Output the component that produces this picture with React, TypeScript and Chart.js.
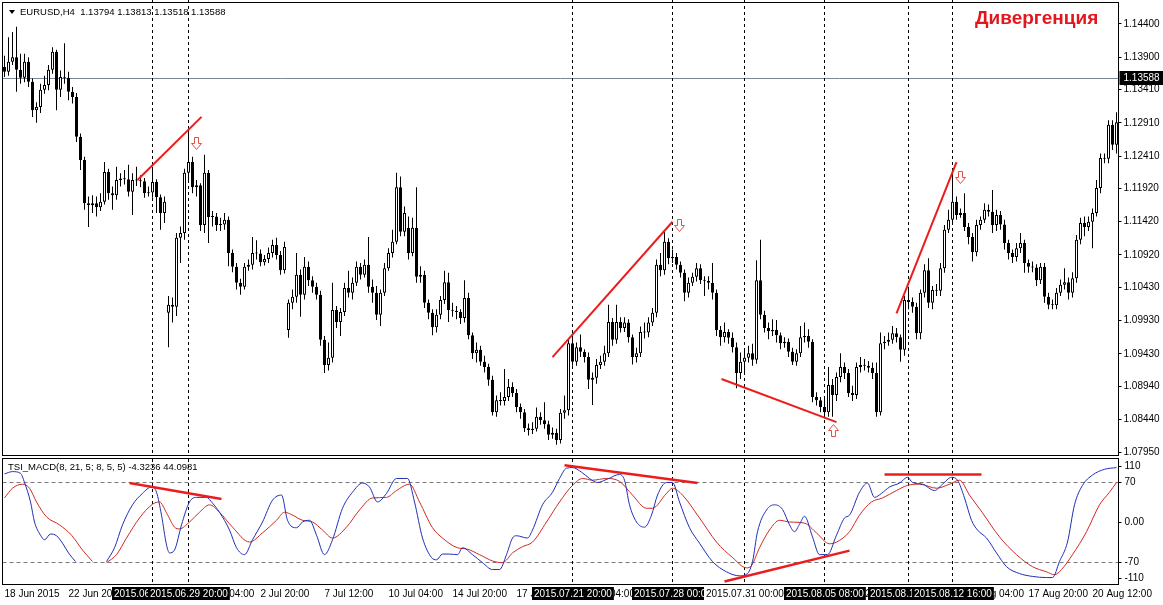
import React, { useEffect, useRef } from "react";
import { Chart, registerables } from "chart.js";

Chart.register(...registerables);

const FONT = "'Liberation Sans', Arial, Helvetica, sans-serif";
const PIP = 10000; // OHLC arrays below are stored as price x 10000
const AXIS_W = 44.5;

// ---- EURUSD H4 candles (bar 0 = 18 Jun 2015 04:00) ----
const OPEN = [
  11375, 11368, 11383, 11390, 11371, 11359, 11383, 11353, 11310, 11315,
  11341, 11348, 11371, 11398, 11341, 11360, 11359, 11338, 11330, 11270,
  11235, 11170, 11167, 11170, 11164, 11172, 11217, 11185, 11182, 11205,
  11207, 11206, 11187, 11205, 11204, 11203, 11185, 11186, 11202, 11179,
  11155, 11005, 11017, 11014, 11118, 11125, 11216, 11232, 11194, 11197,
  11137, 11216, 11149, 11150, 11137, 11138, 11145, 11095, 11074, 11050,
  11044, 11074, 11077, 11095, 11094, 11081, 11086, 11095, 11107, 11092,
  11069, 10979, 11020, 11029, 11062, 11032, 11074, 11054, 11044, 11032,
  10964, 10926, 10937, 11009, 10991, 11006, 11042, 11035, 11050, 11074,
  11062, 11077, 11044, 11035, 11002, 11035, 11072, 11095, 11112, 11194,
  11127, 11133, 11095, 11133, 11059, 11062, 11020, 11005, 10983, 11002,
  11024, 11051, 11009, 11008, 11006, 10997, 11027, 10971, 10944, 10949,
  10931, 10923, 10904, 10855, 10873, 10872, 10878, 10893, 10884, 10863,
  10855, 10831, 10828, 10830, 10848, 10843, 10837, 10821, 10824, 10813,
  10854, 10858, 10959, 10931, 10953, 10946, 10938, 10904, 10907, 10926,
  10931, 10944, 10991, 10964, 10991, 10982, 10990, 10968, 10938, 10944,
  10976, 10975, 10990, 11005, 11077, 11069, 11112, 11087, 11089, 11077,
  11065, 11035, 11050, 11059, 11072, 11054, 11053, 11050, 11035, 10979,
  10968, 10976, 10967, 10953, 10914, 10931, 10937, 10944, 10934, 11054,
  11002, 10982, 10977, 10979, 10971, 10959, 10961, 10946, 10931, 10944,
  10968, 10970, 10961, 10878, 10873, 10863, 10855, 10896, 10881, 10908,
  10923, 10914, 10884, 10881, 10923, 10926, 10925, 10922, 10914, 10855,
  10959, 10961, 10964, 10974, 10968, 10949, 11024, 11021, 11014, 10974,
  11035, 11069, 11020, 11039, 11038, 11072, 11130, 11145, 11172, 11152,
  11155, 11134, 11119, 11096, 11137, 11145, 11160, 11157, 11137, 11152,
  11138, 11110, 11095, 11089, 11102, 11110, 11080, 11074, 11073, 11054,
  11074, 11029, 11017, 11016, 11035, 11047, 11051, 11035, 11057, 11115,
  11140, 11134, 11142, 11155, 11193, 11238, 11237, 11288, 11258,
];
const HIGH = [
  11392, 11420, 11428, 11436, 11395, 11395, 11390, 11358, 11322, 11350,
  11362, 11378, 11405, 11401, 11370, 11411, 11368, 11345, 11336, 11275,
  11240, 11180, 11182, 11180, 11185, 11232, 11222, 11195, 11225, 11215,
  11220, 11228, 11215, 11225, 11212, 11208, 11195, 11225, 11206, 11183,
  11180, 11030, 11028, 11125, 11135, 11222, 11285, 11240, 11205, 11200,
  11243, 11220, 11158, 11155, 11148, 11155, 11150, 11100, 11080, 11056,
  11080, 11085, 11119, 11114, 11100, 11092, 11103, 11115, 11118, 11098,
  11112, 11025, 11040, 11095, 11070, 11089, 11082, 11060, 11050, 11038,
  10970, 10960, 11050, 11015, 11012, 11050, 11068, 11058, 11082, 11080,
  11085, 11119, 11055, 11045, 11040, 11080, 11102, 11130, 11216, 11210,
  11165, 11150, 11148, 11194, 11075, 11068, 11025, 11010, 11010, 11030,
  11068, 11065, 11020, 11015, 11010, 11054, 11035, 10975, 10960, 10955,
  10940, 10928, 10910, 10880, 10885, 10920, 10905, 10900, 10890, 10868,
  10860, 10838, 10840, 10862, 10855, 10870, 10842, 10832, 10830, 10860,
  10880, 10965, 10975, 10960, 10972, 10950, 10945, 10915, 10935, 10940,
  10955, 11017, 10997, 11017, 10998, 10998, 10995, 10972, 10952, 10984,
  10990, 10998, 11012, 11085, 11095, 11127, 11117, 11100, 11095, 11082,
  11070, 11058, 11065, 11080, 11078, 11060, 11060, 11080, 11040, 10985,
  10990, 10980, 10975, 10960, 10945, 10950, 10955, 10958, 11084, 11115,
  11008, 10990, 10995, 10994, 10975, 10968, 10966, 10952, 10950, 10985,
  10990, 10980, 10965, 10885, 10878, 10875, 10923, 10905, 10915, 10944,
  10930, 10920, 10895, 10930, 10938, 10935, 10932, 10930, 10930, 10975,
  10970, 10975, 10985, 10982, 10972, 11030, 11044, 11028, 11020, 11040,
  11078, 11087, 11045, 11048, 11080, 11137, 11160, 11216, 11180, 11162,
  11185, 11140, 11125, 11145, 11150, 11170, 11168, 11190, 11160, 11158,
  11145, 11115, 11100, 11110, 11125, 11115, 11085, 11082, 11078, 11080,
  11080, 11035, 11025, 11042, 11055, 11072, 11058, 11066, 11122, 11148,
  11150, 11150, 11162, 11205, 11245, 11245, 11295, 11295, 11307,
];
const LOW = [
  11360, 11362, 11378, 11338, 11350, 11352, 11345, 11300, 11291, 11306,
  11335, 11340, 11365, 11310, 11330, 11350, 11325, 11320, 11262, 11220,
  11160, 11134, 11155, 11150, 11158, 11168, 11175, 11160, 11175, 11195,
  11198, 11180, 11152, 11196, 11194, 11178, 11180, 11178, 11155, 11130,
  11140, 10953, 10990, 11000, 11080, 11115, 11205, 11185, 11180, 11128,
  11125, 11110, 11135, 11128, 11128, 11130, 11075, 11066, 11040, 11032,
  11040, 11068, 11070, 11085, 11075, 11076, 11080, 11088, 11085, 11062,
  11064, 10967, 11010, 11020, 10999, 11025, 11045, 11035, 11025, 10955,
  10914, 10918, 10930, 10982, 10970, 11000, 11028, 11025, 11045, 11055,
  11058, 11035, 11020, 10994, 10985, 11030, 11068, 11088, 11108, 11120,
  11120, 11085, 11090, 11050, 11050, 11012, 10995, 10971, 10975, 10995,
  11018, 10991, 10999, 10995, 10988, 10990, 10965, 10935, 10930, 10925,
  10915, 10895, 10850, 10848, 10865, 10865, 10872, 10878, 10855, 10845,
  10825, 10820, 10822, 10826, 10836, 10830, 10813, 10815, 10806, 10808,
  10845, 10850, 10925, 10925, 10938, 10930, 10890, 10866, 10898, 10920,
  10925, 10938, 10955, 10958, 10975, 10976, 10960, 10927, 10930, 10938,
  10966, 10968, 10985, 10998, 11060, 11062, 11078, 11080, 11070, 11058,
  11022, 11028, 11045, 11052, 11048, 11030, 11040, 11025, 10970, 10955,
  10960, 10958, 10945, 10891, 10905, 10915, 10930, 10925, 10928, 10995,
  10975, 10965, 10970, 10960, 10950, 10952, 10938, 10926, 10925, 10938,
  10960, 10952, 10870, 10865, 10855, 10846, 10848, 10848, 10872, 10900,
  10905, 10878, 10872, 10875, 10915, 10918, 10915, 10905, 10848, 10850,
  10950, 10955, 10958, 10960, 10931, 10940, 11010, 11005, 10965, 10965,
  11028, 11012, 11010, 11030, 11030, 11065, 11125, 11140, 11145, 11148,
  11128, 11108, 11082, 11090, 11130, 11140, 11150, 11125, 11128, 11130,
  11100, 11085, 11080, 11082, 11095, 11065, 11065, 11066, 11045, 11048,
  11020, 11010, 11010, 11010, 11030, 11040, 11025, 11028, 11050, 11108,
  11120, 11128, 11102, 11150, 11185, 11230, 11230, 11250, 11245,
];
const CLOSE = [
  11368, 11383, 11390, 11371, 11359, 11383, 11353, 11310, 11315, 11341,
  11348, 11371, 11398, 11341, 11360, 11359, 11338, 11330, 11270, 11235,
  11170, 11167, 11170, 11164, 11172, 11217, 11185, 11182, 11205, 11207,
  11206, 11187, 11205, 11204, 11203, 11185, 11186, 11202, 11179, 11155,
  11172, 11017, 11014, 11118, 11125, 11216, 11232, 11194, 11197, 11137,
  11216, 11149, 11150, 11137, 11138, 11145, 11095, 11074, 11050, 11044,
  11074, 11077, 11095, 11094, 11081, 11086, 11095, 11107, 11092, 11069,
  11104, 11020, 11029, 11062, 11032, 11074, 11054, 11044, 11032, 10964,
  10926, 10937, 11009, 10991, 11006, 11042, 11035, 11050, 11074, 11062,
  11077, 11044, 11035, 11002, 11035, 11072, 11095, 11112, 11194, 11127,
  11155, 11095, 11133, 11059, 11062, 11020, 11005, 10983, 11002, 11024,
  11051, 11009, 11008, 11006, 10997, 11027, 10971, 10944, 10949, 10931,
  10923, 10904, 10855, 10873, 10872, 10878, 10893, 10884, 10863, 10855,
  10831, 10828, 10830, 10848, 10843, 10837, 10821, 10824, 10813, 10854,
  10858, 10959, 10931, 10953, 10946, 10938, 10904, 10907, 10926, 10931,
  10944, 10991, 10964, 10991, 10982, 10990, 10968, 10938, 10944, 10976,
  10975, 10990, 11005, 11077, 11069, 11112, 11087, 11089, 11077, 11065,
  11035, 11050, 11059, 11072, 11054, 11053, 11050, 11035, 10979, 10968,
  10976, 10967, 10953, 10914, 10931, 10937, 10944, 10934, 11054, 11002,
  10982, 10977, 10979, 10971, 10959, 10961, 10946, 10931, 10944, 10968,
  10970, 10961, 10878, 10873, 10863, 10855, 10896, 10881, 10908, 10923,
  10914, 10884, 10881, 10923, 10926, 10925, 10922, 10914, 10855, 10959,
  10961, 10964, 10974, 10968, 10949, 11024, 11021, 11014, 10974, 11035,
  11069, 11020, 11039, 11038, 11072, 11130, 11145, 11172, 11152, 11155,
  11134, 11119, 11096, 11137, 11145, 11160, 11157, 11137, 11152, 11138,
  11110, 11095, 11089, 11102, 11110, 11080, 11074, 11073, 11054, 11074,
  11029, 11017, 11016, 11035, 11047, 11051, 11035, 11057, 11115, 11140,
  11134, 11142, 11155, 11193, 11238, 11237, 11288, 11258, 11292,
];

// ---- price axis ----
const Y_TICKS = [1.144, 1.139, 1.1341, 1.1291, 1.1241, 1.1192, 1.1142, 1.1092, 1.1043, 1.0993, 1.0943, 1.0894, 1.0844, 1.0795];
const Y_MIN = 1.0789;
const Y_MAX = 1.14716;
const CURRENT_PRICE = 1.13588;
const HEADER = "EURUSD,H4  1.13794 1.13813 1.13518 1.13588";
const TITLE = "Дивергенция";

// ---- time axis ----
const X_TICK_BARS = [0, 16, 32, 48, 64, 80, 96, 112, 128, 144, 160, 176, 192, 208, 224, 240, 256, 272];
const X_TICK_LABELS = ["18 Jun 2015", "22 Jun 20:00", "25 Jun 12:00", "30 Jun 04:00", "2 Jul 20:00", "7 Jul 12:00", "10 Jul 04:00", "14 Jul 20:00", "17 Jul 12:00", "22 Jul 04:00", "24 Jul 20:00", "29 Jul 12:00", "3 Aug 04:00", "5 Aug 20:00", "10 Aug 12:00", "13 Aug 04:00", "17 Aug 20:00", "20 Aug 12:00"];

// ---- vertical lines ----
const VLINE_BARS = [37, 46, 142, 167, 185, 205, 226, 237];
const VLINE_LABELS = ["2015.06.26 08:00", "2015.06.29 20:00", "2015.07.21 20:00", "2015.07.28 00:00", "2015.07.31 00:00", "2015.08.05 08:00", "2015.08.10 20:00", "2015.08.12 16:00"];
const VLINE_SELECTED = [true, true, true, true, false, true, true, true];

// ---- divergence trend lines on price [bar1, price1, bar2, price2] ----
const PRICE_TRENDS = [
  [33.25, 1.1205, 49.25, 1.13],
  [137, 1.0938, 167, 1.1142],
  [179.25, 1.0905, 208, 1.084],
  [223, 1.1004, 238, 1.1232],
];
const ARROW_BARS = [47.75, 168.5, 207, 238.75];
const ARROW_PRICES = [1.1261, 1.1137, 1.0828, 1.121];
const ARROW_DIRS = ["down", "down", "up", "down"];

// ---- TSI_MACD indicator ----
const IND_HEADER = "TSI_MACD(8, 21, 5; 8, 5, 5) -4.3236 44.0981";
const IND_TICKS = [110, 70, 0, -70, -110];
const IND_TICK_LABELS = ["110", "70", "0.00", "-70", "-110"];
const IND_LEVELS = [70, -70];
const TSI_BARS = [0, 2, 4, 5, 6.5, 7.5, 9, 10, 11.5, 13, 14.5, 16, 17.75, 21, 25.5, 27.5, 29.5, 32, 34.5, 36.75, 38, 39.25, 40.5, 41.25, 42.5, 44.25, 46.25, 48, 50.5, 52, 53.75, 56.25, 58, 60, 62, 64.5, 67, 69.25, 70.75, 73, 74.5, 76.25, 78, 80, 82, 84.5, 87, 89.5, 91.25, 93.25, 95.5, 98, 100.75, 102.5, 104.5, 106.75, 108, 109.5, 111.25, 113.25, 114.5, 117, 119.5, 122, 123.75, 125.5, 127, 128, 130.75, 132, 134.5, 137, 138.75, 140.5, 142, 144.25, 146.25, 148.25, 150.75, 153.75, 155, 156.25, 158, 160, 161.75, 163.25, 165.5, 167, 168.75, 171.25, 173.75, 177, 180.5, 183.75, 185.75, 187, 188.25, 190.5, 192.5, 194.5, 196.25, 197.5, 198.75, 200, 202, 203.75, 205.75, 208, 210, 211.25, 213.75, 215.75, 217.5, 219.25, 221.25, 223.75, 225.75, 227, 229.5, 232.5, 234.5, 236.75, 238.25, 240, 241.75, 243.25, 245.5, 248, 250.5, 253.75, 257, 260.5, 262, 263.75, 265.75, 267.5, 269.5, 272, 275, 278];
const TSI_VALUES = [84, 88, 85, 69, 35, 0, -23, -31, -21, -24, -37, -54, -69, null, -69, -45, -5, 30, 50, 61, 52, 12, -40, -54, -49, -5, 35, 43, 43, 33, 17, -14, -45, -57, -31, 0, 38, 47, 3, -10, 0, 3, -23, -57, -31, 24, 52, 68, 61, 35, 50, 76, 76, 35, -28, -62, -66, -56, -56, -57, -45, -57, -71, -83, -83, -57, -28, -24, -28, -14, 30, 52, 76, 94, 95, 87, 76, 69, 75, 83, 73, 30, 0, -9, 12, 47, 69, 69, 35, -10, -37, -69, -87, -94, -90, -69, -17, 21, 30, 22, -5, -17, -4, 10, -26, -57, -57, -23, 7, 12, 52, 68, 43, 50, 61, 68, 78, 69, 66, 55, 66, 78, 73, 42, 3, -14, -28, -54, -78, -90, -95, -97, -97, -69, -35, 30, 64, 82, 92, 95];
const SIG_BARS = [0, 2, 4.5, 6.25, 8, 10.5, 13.75, 16.75, 19.5, 22, 23.5, 25.5, 28, 30.5, 33.75, 37, 38.75, 40.5, 42.5, 43.75, 46.25, 48.75, 51.25, 53.75, 57, 61.25, 64.5, 68, 70, 72, 74.5, 77, 79.5, 82, 85.5, 88.75, 92, 95.5, 98, 101.25, 103.75, 107, 109.5, 113.25, 115.5, 118.75, 122, 124.5, 127, 129.5, 132, 135.5, 138.75, 142, 144.5, 147, 150.5, 153.75, 157, 160.5, 162, 165.5, 167, 169.5, 173.75, 178, 182, 185.5, 186.75, 188.75, 191.25, 193.75, 196.25, 200, 203, 206.25, 208, 211.25, 213.75, 216.75, 219.5, 223, 225.75, 228.75, 233, 236.25, 238.75, 241.25, 244.5, 248.75, 253, 257, 260.5, 262.5, 264.25, 267, 270.5, 273.75, 276.25, 278];
const SIG_VALUES = [42, 59, 66, 59, 35, 9, -5, -23, -49, -69, null, -71, -57, -28, 7, 31, 35, 16, -9, -12, 0, 17, 30, 17, -9, -35, -19, 3, 17, 12, 3, 0, -14, -28, -9, 21, 42, 43, 55, 66, 35, -10, -28, -45, -47, -57, -68, -71, -54, -43, -35, 0, 35, 64, 76, 73, 76, 71, 47, 24, 24, 50, 59, 47, 7, -35, -62, -80, -76, -45, -14, 3, 0, -2, -19, -38, -35, -17, 12, 35, 42, 55, 64, 66, 59, 66, 73, 47, 16, -26, -57, -78, -87, -92, -83, -57, -17, 30, 52, 69];
const IND_TRENDS = [
  [31.25, 68, 54.25, 40],
  [140, 99, 173.25, 68],
  [180, -104, 211.25, -50],
  [220, 83, 244.25, 83],
];

const X_MIN = -0.5;
const X_MAX = CLOSE.length - 0.5;
const RED = "#ec1c1c";

function drawVLines(ctx: any, xs: any, top: number, bottom: number) {
  ctx.save();
  ctx.strokeStyle = "#000";
  ctx.lineWidth = 1;
  ctx.setLineDash([3, 3]);
  VLINE_BARS.forEach((b) => {
    const px = Math.floor(xs.getPixelForValue(b)) + 0.5;
    ctx.beginPath();
    ctx.moveTo(px, top);
    ctx.lineTo(px, bottom);
    ctx.stroke();
  });
  ctx.restore();
}

function drawArrow(ctx: any, cx: number, cy: number, dir: string) {
  const s = dir === "down" ? 1 : -1;
  cx = Math.round(cx) + 0.5;
  cy = Math.round(cy) + 0.5;
  ctx.beginPath();
  ctx.moveTo(cx - 2, cy - 6 * s);
  ctx.lineTo(cx + 2, cy - 6 * s);
  ctx.lineTo(cx + 2, cy);
  ctx.lineTo(cx + 5, cy);
  ctx.lineTo(cx, cy + 6 * s);
  ctx.lineTo(cx - 5, cy);
  ctx.lineTo(cx - 2, cy);
  ctx.closePath();
  ctx.fillStyle = "#fff";
  ctx.fill();
  ctx.strokeStyle = "#e2504c";
  ctx.lineWidth = 1;
  ctx.stroke();
}

const mainPlugin = {
  id: "mainDeco",
  beforeDatasetsDraw(chart: any) {
    const { ctx, chartArea: a, scales } = chart;
    ctx.save();
    const py = Math.round(scales.y.getPixelForValue(CURRENT_PRICE)) + 0.5;
    ctx.strokeStyle = "#7b8792";
    ctx.lineWidth = 1;
    ctx.beginPath();
    ctx.moveTo(a.left, py);
    ctx.lineTo(a.right, py);
    ctx.stroke();
    ctx.restore();
    drawVLines(ctx, scales.x, 0, a.bottom);
  },
  afterDraw(chart: any) {
    const { ctx, chartArea: a, scales } = chart;
    ctx.save();
    ARROW_BARS.forEach((b, i) => {
      drawArrow(ctx, scales.x.getPixelForValue(b), scales.y.getPixelForValue(ARROW_PRICES[i]), ARROW_DIRS[i]);
    });
    ctx.strokeStyle = "#000";
    ctx.lineWidth = 1;
    ctx.strokeRect(a.left, a.top - 0.5, a.right - a.left, a.bottom - a.top);
    ctx.fillStyle = "#000";
    ctx.beginPath();
    ctx.moveTo(9, 10);
    ctx.lineTo(15, 10);
    ctx.lineTo(12, 14);
    ctx.closePath();
    ctx.fill();
    ctx.font = `9.5px ${FONT}`;
    ctx.textBaseline = "middle";
    ctx.textAlign = "left";
    ctx.fillText(HEADER, 20, 12);
    ctx.font = `bold 19px ${FONT}`;
    ctx.fillStyle = "#e3161d";
    ctx.fillText(TITLE, 975, 19);
    const py = Math.round(scales.y.getPixelForValue(CURRENT_PRICE));
    ctx.fillStyle = "#000";
    ctx.fillRect(a.right + 1, py - 7, 44, 14);
    ctx.fillStyle = "#fff";
    ctx.font = `10px ${FONT}`;
    ctx.fillText(CURRENT_PRICE.toFixed(5), a.right + 5, py);
    ctx.restore();
  },
};

const indPlugin = {
  id: "indDeco",
  beforeDatasetsDraw(chart: any) {
    const { ctx, chartArea: a, scales } = chart;
    ctx.save();
    ctx.strokeStyle = "#7a7a7a";
    ctx.lineWidth = 1;
    ctx.setLineDash([4, 3]);
    IND_LEVELS.forEach((v) => {
      const py = Math.round(scales.y.getPixelForValue(v)) + 0.5;
      ctx.beginPath();
      ctx.moveTo(a.left, py);
      ctx.lineTo(a.right, py);
      ctx.stroke();
    });
    ctx.restore();
    drawVLines(ctx, scales.x, a.top, a.bottom);
  },
  afterDraw(chart: any) {
    const { ctx, chartArea: a, scales } = chart;
    ctx.save();
    ctx.strokeStyle = "#000";
    ctx.lineWidth = 1;
    ctx.strokeRect(a.left, a.top - 0.5, a.right - a.left, a.bottom - a.top);
    ctx.fillStyle = "#000";
    ctx.font = `9.5px ${FONT}`;
    ctx.textBaseline = "middle";
    ctx.textAlign = "left";
    ctx.fillText(IND_HEADER, 8, a.top + 8);
    ctx.font = `10px ${FONT}`;
    IND_TICKS.forEach((v, i) => {
      const p = scales.y.getPixelForValue(v);
      const ly = Math.min(Math.max(p, a.top + 7), a.bottom - 7);
      ctx.beginPath();
      ctx.moveTo(a.right, Math.round(ly) + 0.5);
      ctx.lineTo(a.right + 3, Math.round(ly) + 0.5);
      ctx.stroke();
      ctx.fillText(IND_TICK_LABELS[i], a.right + 6, ly);
    });
    VLINE_BARS.forEach((b, i) => {
      const px = scales.x.getPixelForValue(b);
      const w = ctx.measureText(VLINE_LABELS[i]).width + 4;
      const bx = Math.round(px - w / 2);
      ctx.fillStyle = VLINE_SELECTED[i] ? "#000" : "#fff";
      ctx.fillRect(bx, a.bottom + 2, w, 13);
      ctx.fillStyle = VLINE_SELECTED[i] ? "#fff" : "#000";
      ctx.fillText(VLINE_LABELS[i], bx + 2, a.bottom + 9);
    });
    ctx.restore();
  },
};

export default function App() {
  const mainRef = useRef<HTMLCanvasElement>(null);
  const indRef = useRef<HTMLCanvasElement>(null);

  useEffect(() => {
    document.body.style.margin = "0";
    document.body.style.background = "#ffffff";
    Chart.defaults.font.family = FONT;
    Chart.defaults.font.size = 10;
    Chart.defaults.color = "#000";

    const wicks = CLOSE.map((_, i) => ({ x: i, y: [LOW[i] / PIP, HIGH[i] / PIP] }));
    const bodies = CLOSE.map((c, i) => ({ x: i, y: [OPEN[i] / PIP, c / PIP] }));
    const bodyColors = CLOSE.map((c, i) => (c >= OPEN[i] ? "#ffffff" : "#000000"));

    const main = new Chart(mainRef.current as HTMLCanvasElement, {
      type: "bar",
      data: {
        datasets: [
          {
            type: "bar",
            data: wicks as any,
            backgroundColor: "#000",
            borderWidth: 0,
            barThickness: 1,
            grouped: false,
            inflateAmount: 0,
            order: 3,
          } as any,
          {
            type: "bar",
            data: bodies as any,
            backgroundColor: bodyColors,
            borderColor: "#000",
            borderWidth: 1,
            borderSkipped: false,
            barThickness: 3,
            minBarLength: 1,
            grouped: false,
            inflateAmount: 0,
            order: 2,
          } as any,
          ...PRICE_TRENDS.map((t) => ({
            type: "line",
            data: [
              { x: t[0], y: t[1] },
              { x: t[2], y: t[3] },
            ],
            borderColor: RED,
            borderWidth: 2,
            pointRadius: 0,
            order: 1,
          })) as any,
        ],
      },
      options: {
        responsive: false,
        animation: false,
        events: [],
        layout: { padding: { left: 2.5, right: 0, top: 3, bottom: 1 } },
        plugins: { legend: { display: false }, tooltip: { enabled: false } },
        scales: {
          x: {
            type: "linear",
            min: X_MIN,
            max: X_MAX,
            offset: false,
            display: false,
            grid: { display: false, offset: false },
          },
          y: {
            type: "linear",
            position: "right",
            min: Y_MIN,
            max: Y_MAX,
            beginAtZero: false,
            afterBuildTicks: (s: any) => {
              s.ticks = Y_TICKS.map((v) => ({ value: v }));
            },
            afterFit: (s: any) => {
              s.width = AXIS_W;
              s.paddingTop = 0;
              s.paddingBottom = 0;
            },
            ticks: {
              autoSkip: false,
              padding: 2,
              color: "#000",
              font: { size: 10, family: FONT },
              callback: (v: any) => Number(v).toFixed(5),
            },
            grid: { drawOnChartArea: false, drawTicks: true, tickLength: 3, color: "#000" },
            border: { display: false },
          },
        },
      } as any,
      plugins: [mainPlugin],
    });

    const toPoints = (xs: number[], ys: (number | null)[]) => xs.map((x, i) => ({ x, y: ys[i] }));

    const ind = new Chart(indRef.current as HTMLCanvasElement, {
      type: "line",
      data: {
        datasets: [
          ...IND_TRENDS.map((t) => ({
            data: [
              { x: t[0], y: t[1] },
              { x: t[2], y: t[3] },
            ],
            borderColor: RED,
            borderWidth: 2.5,
            pointRadius: 0,
            order: 0,
          })),
          {
            data: toPoints(TSI_BARS, TSI_VALUES),
            borderColor: "#1f2fb8",
            borderWidth: 1,
            pointRadius: 0,
            cubicInterpolationMode: "monotone",
            spanGaps: false,
            order: 1,
          },
          {
            data: toPoints(SIG_BARS, SIG_VALUES),
            borderColor: "#d02a22",
            borderWidth: 1,
            pointRadius: 0,
            cubicInterpolationMode: "monotone",
            spanGaps: false,
            order: 2,
          },
        ] as any,
      },
      options: {
        responsive: false,
        animation: false,
        events: [],
        layout: { padding: { left: 2.5, right: 0, top: 2, bottom: 0 } },
        plugins: { legend: { display: false }, tooltip: { enabled: false } },
        scales: {
          x: {
            type: "linear",
            position: "bottom",
            min: X_MIN,
            max: X_MAX,
            offset: false,
            afterBuildTicks: (s: any) => {
              s.ticks = X_TICK_BARS.map((v) => ({ value: v }));
            },
            afterFit: (s: any) => {
              s.height = 20;
              s.paddingLeft = 0;
              s.paddingRight = 0;
            },
            ticks: {
              autoSkip: false,
              maxRotation: 0,
              minRotation: 0,
              align: "start",
              padding: 3,
              color: "#000",
              font: { size: 10, family: FONT },
              callback: (_v: any, i: number) => X_TICK_LABELS[i],
            },
            grid: { display: false, drawTicks: false },
            border: { display: false },
          },
          y: {
            type: "linear",
            position: "right",
            min: -110,
            max: 110,
            afterFit: (s: any) => {
              s.width = AXIS_W;
              s.paddingTop = 0;
              s.paddingBottom = 0;
            },
            ticks: { display: false },
            grid: { display: false, drawTicks: false },
            border: { display: false },
          },
        },
      } as any,
      plugins: [indPlugin],
    });

    return () => {
      main.destroy();
      ind.destroy();
    };
  }, []);

  return (
    <div style={{ position: "relative", width: 1163, height: 605, background: "#fff", overflow: "hidden" }}>
      <canvas ref={mainRef} width={1163} height={457} style={{ position: "absolute", left: 0, top: 0, width: 1163, height: 457 }} />
      <canvas ref={indRef} width={1163} height={148} style={{ position: "absolute", left: 0, top: 457, width: 1163, height: 148 }} />
    </div>
  );
}
